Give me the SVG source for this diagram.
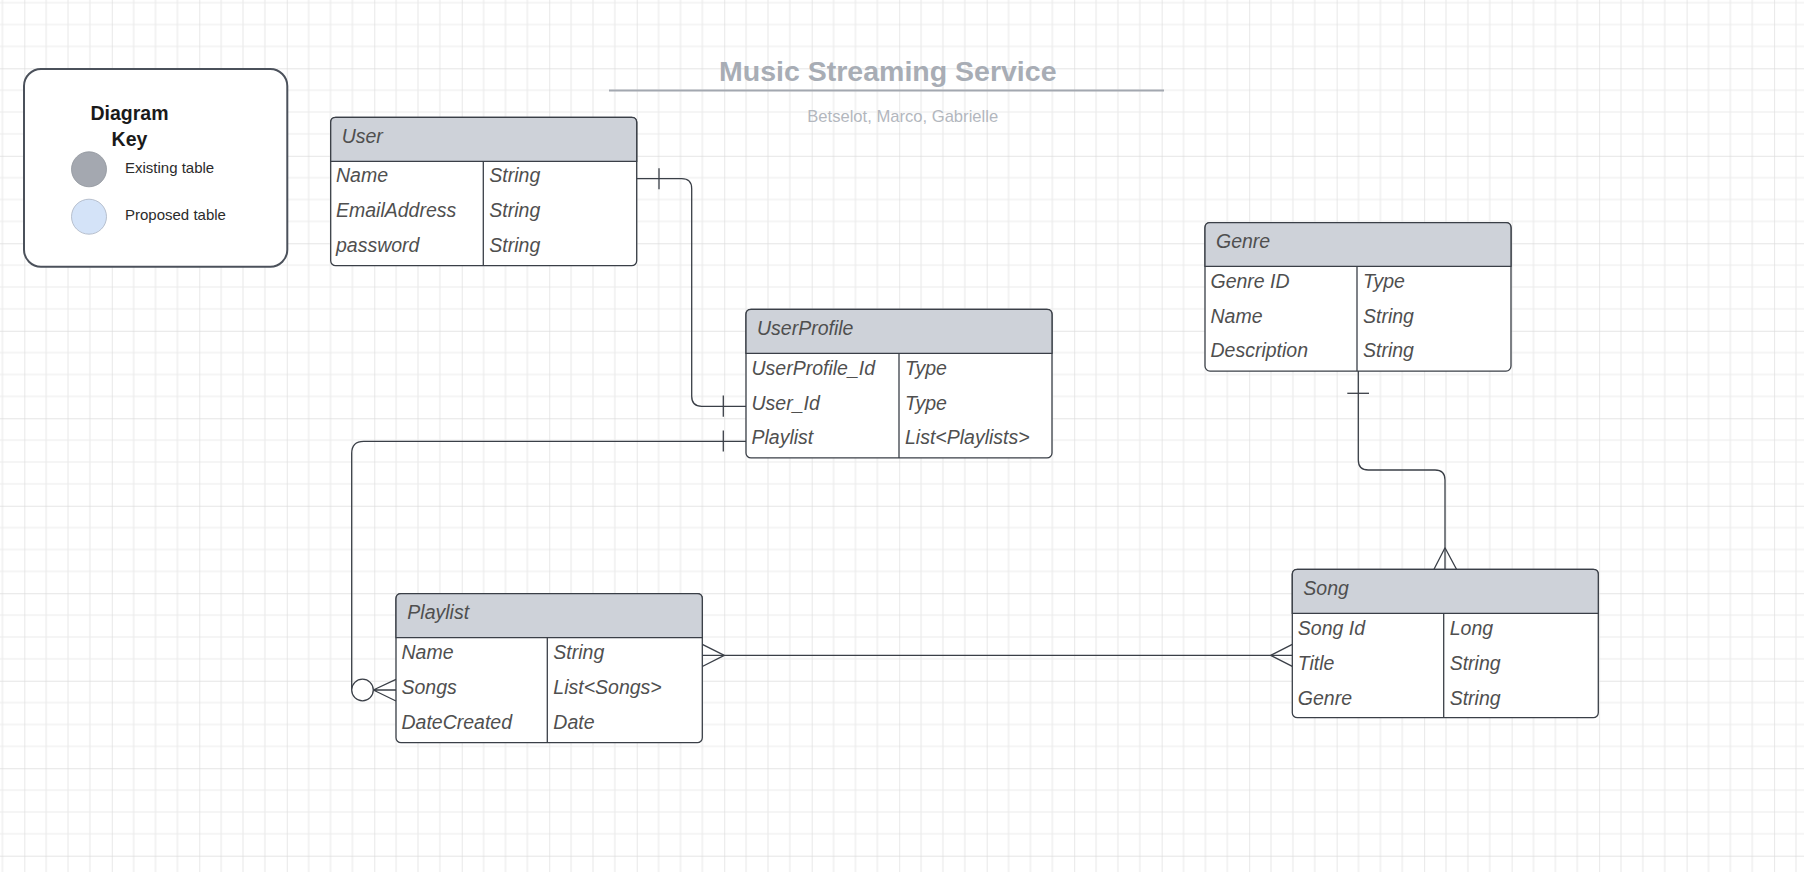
<svg xmlns="http://www.w3.org/2000/svg" width="1804" height="872" viewBox="0 0 1804 872">
<style>
.tb{fill:#ffffff;stroke:#3a3f47;stroke-width:1.3}
.hd{fill:#ced2d9;stroke:#3a3f47;stroke-width:1.3}
.ln{fill:none;stroke:#3a3f47;stroke-width:1.3}
.t{font-family:"Liberation Sans",Arial,sans-serif;font-style:italic;font-size:19.5px;fill:#4f4f4f}
.k{font-family:"Liberation Sans",Arial,sans-serif;font-size:15px;fill:#2b2b2b}
.kb{font-family:"Liberation Sans",Arial,sans-serif;font-size:19.5px;font-weight:bold;fill:#1a1a1a}
.mn{stroke:#ebebeb;stroke-width:1.2}
.mj{stroke:#dcdcdc;stroke-width:1.3}
</style>
<defs>
<pattern id="grid" patternUnits="userSpaceOnUse" x="24.3" y="68.3" width="87.49" height="87.49">
<line class="mn" x1="21.87" y1="0" x2="21.87" y2="87.49"/>
<line class="mn" x1="43.75" y1="0" x2="43.75" y2="87.49"/>
<line class="mn" x1="65.62" y1="0" x2="65.62" y2="87.49"/>
<line class="mn" x1="0" y1="21.87" x2="87.49" y2="21.87"/>
<line class="mn" x1="0" y1="43.75" x2="87.49" y2="43.75"/>
<line class="mn" x1="0" y1="65.62" x2="87.49" y2="65.62"/>
<line class="mj" x1="0" y1="0" x2="0" y2="87.49"/>
<line class="mj" x1="0" y1="0" x2="87.49" y2="0"/>
</pattern>
</defs>
<rect x="0" y="0" width="1804" height="872" fill="#ffffff"/>
<rect x="0" y="0" width="1804" height="872" fill="url(#grid)"/>

<g id="title">
<text x="887.8" y="80.7" text-anchor="middle" font-family="Liberation Sans, Arial, sans-serif" font-weight="bold" font-size="28.5" fill="#a8adb5">Music Streaming Service</text>
<line x1="609" y1="90.5" x2="1164" y2="90.5" stroke="#a3a8b0" stroke-width="1.8"/>
<text x="902.7" y="121.7" text-anchor="middle" font-family="Liberation Sans, Arial, sans-serif" font-size="16.6" fill="#b3b7be">Betselot, Marco, Gabrielle</text>
</g>

<g id="legend">
<rect x="24" y="69" width="263.3" height="197.7" rx="17" fill="#ffffff" stroke="#4b515b" stroke-width="2"/>
<text class="kb" x="129.5" y="120" text-anchor="middle">Diagram</text>
<text class="kb" x="129.5" y="146" text-anchor="middle">Key</text>
<circle cx="89" cy="169.3" r="17.5" fill="#a4a8b0" stroke="#8f949c" stroke-width="0.8"/>
<circle cx="89" cy="216.7" r="17.5" fill="#d4e3f8" stroke="#a9b3c2" stroke-width="0.8"/>
<text class="k" x="125" y="172.7">Existing table</text>
<text class="k" x="125" y="220">Proposed table</text>
</g>

<g id="connectors">
<path class="ln" d="M636.7,178.7 H681.7 Q691.7,178.7 691.7,188.7 V396.3 Q691.7,406.3 701.7,406.3 H746"/>
<line class="ln" x1="659" y1="168.3" x2="659" y2="189.3"/>
<line class="ln" x1="723.3" y1="395.5" x2="723.3" y2="416.7"/>
<path class="ln" d="M746,441.3 H363.7 Q351.7,441.3 351.7,453.3 V690"/>
<line class="ln" x1="723.3" y1="430.5" x2="723.3" y2="451.5"/>
<circle cx="362.5" cy="690" r="10.8" fill="#ffffff" stroke="#3a3f47" stroke-width="1.3"/>
<path class="ln" d="M373.3,690 H396 M373.3,690 L396,679.3 M373.3,690 L396,701"/>
<path class="ln" d="M702.3,655.3 H1292.3"/>
<path class="ln" d="M724.3,655.3 L702.3,644.3 M724.3,655.3 L702.3,666.5"/>
<path class="ln" d="M1270.7,655.3 L1292.3,644.3 M1270.7,655.3 L1292.3,666.3"/>
<path class="ln" d="M1358.3,371 V460 Q1358.3,470 1368.3,470 H1435 Q1445,470 1445,480 V569.3"/>
<line class="ln" x1="1347.3" y1="393.3" x2="1369" y2="393.3"/>
<path class="ln" d="M1445,547.7 L1434,569.3 M1445,547.7 L1456.5,569.3"/>
</g>

<g id="User">
<rect class="tb" x="330.7" y="117.3" width="306" height="148.4" rx="5"/>
<path class="hd" d="M330.7,161.3 V122.3 Q330.7,117.3 335.7,117.3 H631.7 Q636.7,117.3 636.7,122.3 V161.3 Z"/>
<line class="ln" x1="483.3" y1="161.3" x2="483.3" y2="265.7"/>
<text class="t" x="341.7" y="142.7">User</text>
<text class="t" x="336" y="182">Name</text><text class="t" x="489.3" y="182">String</text>
<text class="t" x="336" y="217">EmailAddress</text><text class="t" x="489.3" y="217">String</text>
<text class="t" x="336" y="252">password</text><text class="t" x="489.3" y="252">String</text>
</g>

<g id="UserProfile">
<rect class="tb" x="746" y="309.3" width="306" height="148.6" rx="5"/>
<path class="hd" d="M746,353.3 V314.3 Q746,309.3 751,309.3 H1047 Q1052,309.3 1052,314.3 V353.3 Z"/>
<line class="ln" x1="899" y1="353.3" x2="899" y2="457.9"/>
<text class="t" x="757" y="334.8">UserProfile</text>
<text class="t" x="751.5" y="374.8">UserProfile_Id</text><text class="t" x="905" y="374.8">Type</text>
<text class="t" x="751.5" y="409.5">User_Id</text><text class="t" x="905" y="409.5">Type</text>
<text class="t" x="751.5" y="444">Playlist</text><text class="t" x="905" y="444">List&lt;Playlists&gt;</text>
</g>

<g id="Genre">
<rect class="tb" x="1205" y="222.7" width="306" height="148.4" rx="5"/>
<path class="hd" d="M1205,266.3 V227.7 Q1205,222.7 1210,222.7 H1506 Q1511,222.7 1511,227.7 V266.3 Z"/>
<line class="ln" x1="1357" y1="266.3" x2="1357" y2="371"/>
<text class="t" x="1216" y="247.5">Genre</text>
<text class="t" x="1210.5" y="287.5">Genre ID</text><text class="t" x="1363" y="287.5">Type</text>
<text class="t" x="1210.5" y="322.5">Name</text><text class="t" x="1363" y="322.5">String</text>
<text class="t" x="1210.5" y="357">Description</text><text class="t" x="1363" y="357">String</text>
</g>

<g id="Playlist">
<rect class="tb" x="396" y="593.7" width="306.3" height="149" rx="5"/>
<path class="hd" d="M396,637.7 V598.7 Q396,593.7 401,593.7 H697.3 Q702.3,593.7 702.3,598.7 V637.7 Z"/>
<line class="ln" x1="547.3" y1="637.7" x2="547.3" y2="742.7"/>
<text class="t" x="407.3" y="619.3">Playlist</text>
<text class="t" x="401.5" y="658.5">Name</text><text class="t" x="553.3" y="658.5">String</text>
<text class="t" x="401.5" y="694">Songs</text><text class="t" x="553.3" y="694">List&lt;Songs&gt;</text>
<text class="t" x="401.5" y="729.3">DateCreated</text><text class="t" x="553.3" y="729.3">Date</text>
</g>

<g id="Song">
<rect class="tb" x="1292.3" y="569.3" width="306" height="148.4" rx="5"/>
<path class="hd" d="M1292.3,613.3 V574.3 Q1292.3,569.3 1297.3,569.3 H1593.3 Q1598.3,569.3 1598.3,574.3 V613.3 Z"/>
<line class="ln" x1="1443.7" y1="613.3" x2="1443.7" y2="717.7"/>
<text class="t" x="1303.3" y="595">Song</text>
<text class="t" x="1297.8" y="635">Song Id</text><text class="t" x="1449.7" y="635">Long</text>
<text class="t" x="1297.8" y="670">Title</text><text class="t" x="1449.7" y="670">String</text>
<text class="t" x="1297.8" y="704.5">Genre</text><text class="t" x="1449.7" y="704.5">String</text>
</g>
</svg>
